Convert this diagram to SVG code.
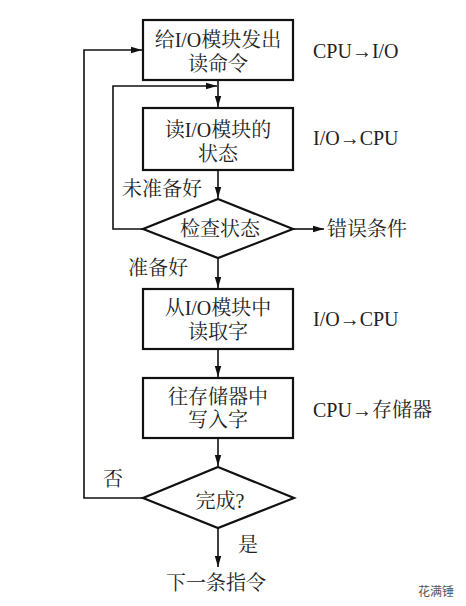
<svg xmlns="http://www.w3.org/2000/svg" width="466" height="606" viewBox="0 0 466 606">
<defs>
<marker id="ah" markerWidth="12" markerHeight="8" refX="11" refY="4" orient="auto" markerUnits="userSpaceOnUse">
<path d="M0,0.8 L11,4 L0,7.2 Z" fill="#111"/>
</marker>
</defs>
<style>
.box{fill:#fff;stroke:#111;stroke-width:2.2}
.t{font-family:"Liberation Serif","Noto Serif CJK SC","Noto Sans CJK SC",serif;font-size:20px;fill:#222;text-anchor:middle;dominant-baseline:central}
.l{text-anchor:start}
.c{fill:none;stroke:#111;stroke-width:1.6}
</style>
<rect width="466" height="606" fill="#fff"/>
<g id="connectors">
<line class="c" x1="218" y1="80" x2="218" y2="107" marker-end="url(#ah)"/>
<polyline class="c" points="143,229 113,229 113,86 217,86" marker-end="url(#ah)"/>
<line class="c" x1="218" y1="170" x2="218" y2="198" marker-end="url(#ah)"/>
<line class="c" x1="293" y1="229" x2="324" y2="229" marker-end="url(#ah)"/>
<line class="c" x1="218" y1="258" x2="218" y2="288" marker-end="url(#ah)"/>
<line class="c" x1="218" y1="349" x2="218" y2="377" marker-end="url(#ah)"/>
<line class="c" x1="218" y1="438" x2="218" y2="466" marker-end="url(#ah)"/>
<polyline class="c" points="143,498 84,498 84,50 142,50" marker-end="url(#ah)"/>
<line class="c" x1="218" y1="528" x2="218" y2="567" marker-end="url(#ah)"/>
</g>
<g id="n1">
<rect class="box" x="143" y="20" width="150" height="60"/>
<text class="t" x="218" y="40">给I/O模块发出</text>
<text class="t" x="218" y="64">读命令</text>
</g>
<g id="n2">
<rect class="box" x="143" y="108" width="150" height="62"/>
<text class="t" x="218" y="130">读I/O模块的</text>
<text class="t" x="218" y="154">状态</text>
</g>
<g id="d1">
<polygon class="box" points="218,199 293,229 218,258 143,229"/>
<text class="t" x="220" y="229">检查状态</text>
</g>
<g id="n3">
<rect class="box" x="143" y="289" width="150" height="60"/>
<text class="t" x="218" y="308">从I/O模块中</text>
<text class="t" x="218" y="332">读取字</text>
</g>
<g id="n4">
<rect class="box" x="143" y="378" width="150" height="60"/>
<text class="t" x="218" y="397">往存储器中</text>
<text class="t" x="218" y="420">写入字</text>
</g>
<g id="d2">
<polygon class="box" points="218,467 294,498 218,528 143,498"/>
<text class="t" x="220" y="501">完成?</text>
</g>
<g id="labels">
<text class="t l" x="313" y="51">CPU→I/O</text>
<text class="t l" x="313" y="138">I/O→CPU</text>
<text class="t l" x="313" y="319">I/O→CPU</text>
<text class="t l" x="313" y="410">CPU→存储器</text>
<text class="t l" x="327" y="229">错误条件</text>
<text class="t l" x="122" y="189">未准备好</text>
<text class="t l" x="128" y="268">准备好</text>
<text class="t l" x="103" y="479">否</text>
<text class="t l" x="238" y="545">是</text>
<text class="t" x="216" y="583">下一条指令</text>
<text class="t l" x="418" y="590" style="font-size:12px;fill:#555;font-family:'Noto Sans CJK SC',sans-serif">花满锤</text>
</g>
</svg>
